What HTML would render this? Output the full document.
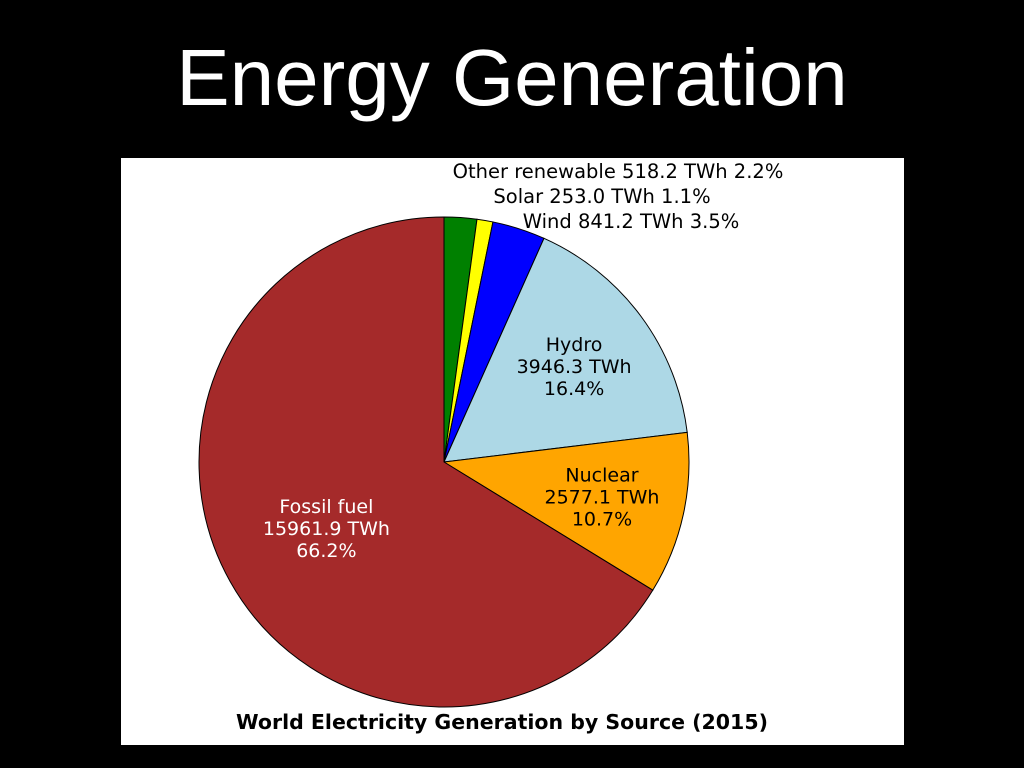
<!DOCTYPE html>
<html><head><meta charset="utf-8"><style>
body{margin:0;width:1024px;height:768px;background:#000;overflow:hidden;position:relative;font-family:"DejaVu Sans","Liberation Sans",sans-serif}
#title{position:absolute;left:0;top:28px;width:1024px;text-align:center;color:#fff;font-family:"Liberation Sans",sans-serif;font-size:80px;line-height:100px}
svg{position:absolute;left:0;top:0}
</style></head><body>
<div id="title">Energy Generation</div>
<svg id="chart" width="1024" height="768">
<rect x="121" y="158" width="783" height="587" fill="#fff"/>
<text x="502" y="729" text-anchor="middle" font-size="20.5" font-weight="bold" fill="#000">World Electricity Generation by Source (2015)</text>
<text x="618" y="178" text-anchor="middle" font-size="19.5" fill="#000">Other renewable 518.2 TWh 2.2%</text>
<text x="602" y="203" text-anchor="middle" font-size="19.5" fill="#000">Solar 253.0 TWh 1.1%</text>
<text x="631" y="228" text-anchor="middle" font-size="19.5" fill="#000">Wind 841.2 TWh 3.5%</text>
</svg>
<script>
const categories=["Other renewable","Solar","Wind","Hydro","Nuclear","Fossil fuel"];
const values=[518.2,253.0,841.2,3946.3,2577.1,15961.9];
const percents=["2.2%","1.1%","3.5%","16.4%","10.7%","66.2%"];
const colors=["#008000","#ffff00","#0000ff","#add8e6","#ffa500","#a52a2a"];
const inside=[false,false,false,true,true,true];
const labelRad=[0,0,0,0.66,0.66,0.55];
const svg=document.getElementById('chart');
const NS='http://www.w3.org/2000/svg';
const cx=444,cy=462,r=245;
const total=values.reduce((a,b)=>a+b,0);
function pt(frac,rad){const a=frac*2*Math.PI;return [cx+rad*Math.sin(a),cy-rad*Math.cos(a)];}
let cum=0;
const g=document.createElementNS(NS,'g');
svg.appendChild(g);
values.forEach((v,i)=>{
  const f0=cum/total,f1=(cum+v)/total;cum+=v;
  const [x0,y0]=pt(f0,r),[x1,y1]=pt(f1,r);
  const p=document.createElementNS(NS,'path');
  p.setAttribute('d',`M${cx},${cy}L${x0},${y0}A${r},${r} 0 ${f1-f0>0.5?1:0} 1 ${x1},${y1}Z`);
  p.setAttribute('fill',colors[i]);p.setAttribute('stroke','#000');p.setAttribute('stroke-width','1');
  
  
  g.appendChild(p);
  if(inside[i]){
    const [lx,ly]=pt((f0+f1)/2,r*labelRad[i]);
    const t=document.createElementNS(NS,'text');
    t.setAttribute('text-anchor','middle');t.setAttribute('font-size','19');
    t.setAttribute('fill',i===5?'#fff':'#000');
    
    
    [categories[i],v.toFixed(1)+' TWh',percents[i]].forEach((s,k)=>{
      const ts=document.createElementNS(NS,'tspan');
      ts.setAttribute('x',lx);ts.setAttribute('y',ly-15+k*22);ts.textContent=s;t.appendChild(ts);
    });
    svg.appendChild(t);
  }
});
</script>
</body></html>
